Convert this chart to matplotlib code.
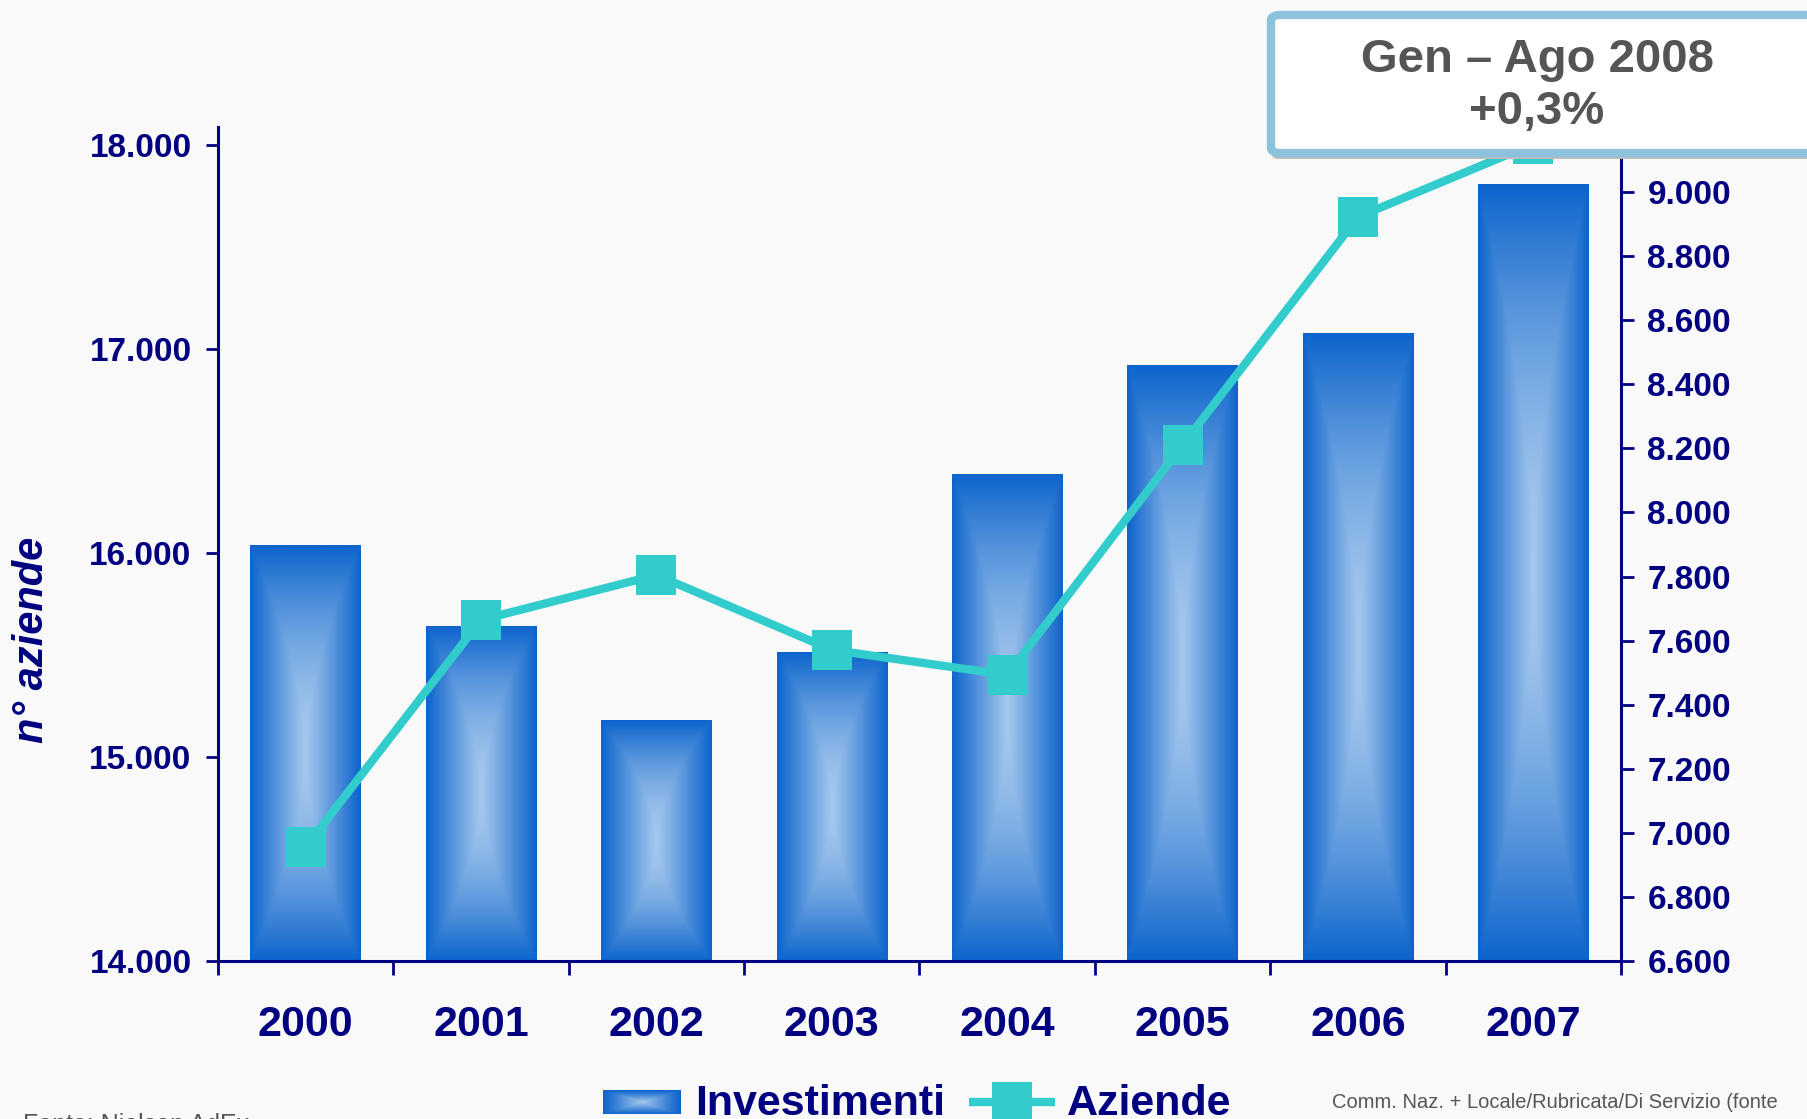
import numpy as np
import matplotlib.pyplot as plt
from matplotlib.lines import Line2D
from matplotlib.patches import FancyBboxPatch

plt.rcParams['font.family'] = ['Liberation Sans', 'DejaVu Sans']

anni = ['2000', '2001', '2002', '2003', '2004', '2005', '2006', '2007']
investimenti = [7898, 7646, 7352, 7564, 8120, 8460, 8560, 9025]  # asse destro
aziende = [14559, 15672, 15892, 15525, 15402, 16529, 17647, 18005]  # asse sinistro
tick_dx = list(range(6600, 9001, 200))
tick_sx = list(range(14000, 18001, 1000))

navy = '#000080'
turchese = '#33cccc'
sfondo = '#f9f9fa'

W, H = 1808, 1119
fig = plt.figure(figsize=(W / 100, H / 100), dpi=100, facecolor=sfondo)

# gradiente "a riquadro" per le barre
gu = np.linspace(-1, 1, 120)
gv = np.linspace(-1, 1, 400)
U, V = np.meshgrid(gu, gv)
t = np.maximum(np.abs(U), np.abs(V) ** 1.7)
scuro = np.array([12, 100, 204]) / 255
chiaro = np.array([166, 200, 237]) / 255
k = (1 - t) ** 1.0
grad = scuro + (chiaro - scuro) * k[..., None]


def fmt(v):
    return f'{v:,}'.replace(',', '.')


ax = fig.add_axes([218 / W, 1 - 961 / H, (1621 - 218) / W, (961 - 127) / H])
ax.set_facecolor('none')
x = np.arange(len(anni))
base = 6600
bars = ax.bar(x, np.array(investimenti) - base, bottom=base, width=0.63,
              color='none', edgecolor='none')
for b in bars:
    x0, y0 = b.get_x(), b.get_y()
    im = ax.imshow(grad, extent=[x0, x0 + b.get_width(), y0, y0 + b.get_height()],
                   aspect='auto', interpolation='bilinear', zorder=2)
    im.set_clip_path(b)
ax.set_xlim(-0.5, len(anni) - 0.5)
ax.set_ylim(base, 9203)

# asse sinistro: numero aziende
axl = ax.twinx()
axl.plot(x, aziende, color=turchese, lw=6, marker='s', ms=29,
         markeredgewidth=0, zorder=3)
axl.set_ylim(14000, 18088)

# ora sistemo i lati (twinx li riassegna)
ax.yaxis.tick_right()
axl.yaxis.tick_left()
ax.set_yticks(tick_dx)
ax.set_yticklabels([fmt(v) for v in tick_dx], fontweight='bold')
axl.set_yticks(tick_sx)
axl.set_yticklabels([fmt(v) for v in tick_sx], fontweight='bold')

ax.set_xticks(x)
ax.set_xticklabels(anni, fontweight='bold')
ax.set_xticks(np.arange(-0.5, len(anni)), minor=True)
ax.tick_params(axis='x', which='major', length=0, pad=32, labelsize=31,
               labelcolor=navy)
ax.tick_params(axis='x', which='minor', length=10, width=2, color=navy,
               direction='out')
for a in (ax, axl):
    a.tick_params(axis='y', length=9, width=2, color=navy, pad=10,
                  labelsize=24, labelcolor=navy)
    for s in a.spines.values():
        s.set_visible(False)
for s in ['bottom', 'right']:
    ax.spines[s].set_visible(True)
    ax.spines[s].set_color(navy)
    ax.spines[s].set_linewidth(2.2)
axl.spines['left'].set_visible(True)
axl.spines['left'].set_color(navy)
axl.spines['left'].set_linewidth(2.2)

fig.text(32 / W, 1 - 640 / H, 'n° aziende', rotation=90, fontsize=30,
         fontweight='bold', fontstyle='italic', color=navy,
         ha='center', va='center')

# riquadro in alto a destra
ombra = FancyBboxPatch((1272 / W, 1 - 159 / H), 0.4, (159 - 14) / H,
                       boxstyle='round,pad=0,rounding_size=0.004',
                       transform=fig.transFigure, facecolor='#bdbdbd',
                       edgecolor='none', zorder=5)
fig.patches.append(ombra)
box = FancyBboxPatch((1271 / W, 1 - 153 / H), 0.4, (153 - 15) / H,
                     boxstyle='round,pad=0,rounding_size=0.005',
                     transform=fig.transFigure, facecolor='white',
                     edgecolor='#8cc2dc', linewidth=6, zorder=6)
fig.patches.append(box)
fig.text(1538 / W, 1 - 60 / H, 'Gen – Ago 2008', fontsize=34, fontweight='bold',
         color='#555555', ha='center', va='center', zorder=7)
fig.text(1537 / W, 1 - 112 / H, '+0,3%', fontsize=34, fontweight='bold',
         color='#555555', ha='center', va='center', zorder=7)

# legenda in basso
sw = fig.add_axes([603 / W, 1 - 1114 / H, 77 / W, 24 / H])
gs = np.maximum(np.abs(U[::10]), np.abs(V[::10]))
sw.imshow(scuro + (chiaro - scuro) * ((1 - gs) ** 1.1)[..., None],
          aspect='auto', interpolation='bilinear')
sw.axis('off')
fig.text(695 / W, 1 - 1115 / H, 'Investimenti', fontsize=31, fontweight='bold',
         color=navy, ha='left', va='baseline')
fig.add_artist(Line2D([969 / W, 1055 / W], [1 - 1102 / H, 1 - 1102 / H],
                      transform=fig.transFigure, color=turchese, lw=6,
                      solid_capstyle='butt'))
fig.add_artist(Line2D([1012 / W], [1 - 1102 / H], transform=fig.transFigure,
                      color=turchese, marker='s', ms=29, markeredgewidth=0))
fig.text(1067 / W, 1 - 1115 / H, 'Aziende', fontsize=31, fontweight='bold',
         color=navy, ha='left', va='baseline')

fig.text(1332 / W, 1 - 1103 / H, 'Comm. Naz. + Locale/Rubricata/Di Servizio (fonte',
         fontsize=14.5, color='#555555', ha='left', va='center')
fig.text(23 / W, 1 - 1113 / H, 'Fonte: Nielsen AdEx', fontsize=18,
         color='#555555', ha='left', va='top')

fig.savefig('out.png', dpi=100, facecolor=sfondo)
